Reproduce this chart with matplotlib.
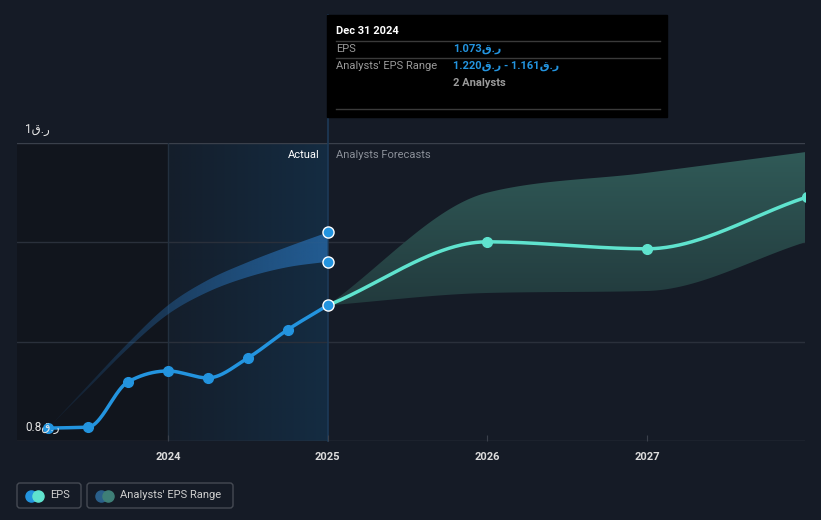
import numpy as np
import matplotlib
matplotlib.use('Agg')
import matplotlib.pyplot as plt
from matplotlib.patches import FancyBboxPatch, Rectangle

plt.rcParams['font.family'] = ['Roboto', 'DejaVu Sans']

# actual EPS (quarterly, trailing)
past_t = [2023.25, 2023.5, 2023.75, 2024.0, 2024.25, 2024.5, 2024.75, 2025.0]
past_eps = [0.826, 0.828, 0.919, 0.941, 0.927, 0.967, 1.024, 1.073]

# analysts' range for the past period
past_hi = [0.826, 0.912, 0.997, 1.073, 1.124, 1.160, 1.191, 1.220]
past_lo = [0.826, 0.906, 0.986, 1.055, 1.100, 1.130, 1.150, 1.161]

# forecasts
fc_t = [2025.0, 2026.0, 2027.0, 2028.0]
fc_eps = [1.073, 1.201, 1.187, 1.291]
fc_hi = [1.073, 1.300, 1.340, 1.382]
fc_lo = [1.073, 1.098, 1.102, 1.201]

years = [2024, 2025, 2026, 2027]
ylabels = ['0.8ق.ر', '1ق.ر']

BG = '#151b26'
BLUE = '#2394df'
TEAL = '#5fe3ce'
W, H = 821, 520


def monotone(x, y, n=300):
    # monotone cubic (d3 curveMonotoneX style) for smooth drawing
    x = np.asarray(x, float)
    y = np.asarray(y, float)
    h = np.diff(x)
    s = np.diff(y) / h
    m = np.zeros_like(y)
    m[0], m[-1] = s[0], s[-1]
    for k in range(1, len(x) - 1):
        p = (s[k-1] * h[k] + s[k] * h[k-1]) / (h[k-1] + h[k])
        m[k] = (np.sign(s[k-1]) + np.sign(s[k])) * min(abs(s[k-1]), abs(s[k]), 0.5 * abs(p))
    xs, ys = [], []
    for k in range(len(x) - 1):
        t = np.linspace(0, 1, n // (len(x) - 1))
        h00 = 2*t**3 - 3*t**2 + 1
        h10 = t**3 - 2*t**2 + t
        h01 = -2*t**3 + 3*t**2
        h11 = t**3 - t**2
        xs.append(x[k] + t * h[k])
        ys.append(h00*y[k] + h10*h[k]*m[k] + h01*y[k+1] + h11*h[k]*m[k+1])
    return np.concatenate(xs), np.concatenate(ys)


fig = plt.figure(figsize=(W / 100, H / 100), dpi=100, facecolor=BG)
ax = fig.add_axes([17 / W, (H - 441) / H, (805 - 17) / W, (441 - 143) / H])
ax.set_facecolor(BG)
x0, x1 = 2023.055, 2027.99
ax.set_xlim(x0, x1)
ax.set_ylim(0.8, 1.4)

# shaded past regions
ax.axvspan(x0, 2024.0, color='#11151d', zorder=0, lw=0)
grad = np.zeros((2, 256, 4))
c0 = np.array([20, 30, 43]) / 255
c1 = np.array([20, 44, 66]) / 255
for i in range(256):
    grad[:, i, :3] = c0 + (c1 - c0) * i / 255
grad[:, :, 3] = 1
ax.imshow(grad, extent=[2024.0, 2025.0, 0.8, 1.4], aspect='auto', zorder=0.5,
          interpolation='bilinear')

# grid
for v in [0.8, 1.0, 1.2, 1.4]:
    ax.axhline(v, color='#3a404b' if v in (0.8, 1.4) else '#2a303b', lw=1, zorder=1)
ax.axvline(2024.0, color='#23303f', lw=1, zorder=1)
ax.axvline(2025.0, ymax=(441 - 15) / (441 - 143), color='#1d3a58', lw=1.2,
           zorder=1, clip_on=False)

# past range band with horizontal fade
bx, bhi = monotone(past_t, past_hi)
_, blo = monotone(past_t, past_lo)
poly = ax.fill_between(bx, blo, bhi, color='none', lw=0)
pg = np.zeros((2, 256, 4))
pg[:, :, :3] = np.array([37, 100, 160]) / 255
pg[:, :, 3] = 0.05 + 0.8 * np.linspace(0.0, 1.0, 256) ** 0.8
im = ax.imshow(pg, extent=[past_t[0], past_t[-1], 0.8, 1.4], aspect='auto',
               zorder=2, interpolation='bilinear')
im.set_clip_path(poly.get_paths()[0], transform=ax.transData)

# forecast band with vertical gradient
fx, fhi = monotone(fc_t, fc_hi)
_, flo = monotone(fc_t, fc_lo)
poly2 = ax.fill_between(fx, flo, fhi, color='none', lw=0)
fg = np.zeros((256, 2, 4))
top = np.array([49, 92, 89]) / 255
bot = np.array([34, 58, 61]) / 255
for i in range(256):
    fg[i, :, :3] = top + (bot - top) * i / 255
fg[:, :, 3] = 1
im2 = ax.imshow(fg, extent=[2025.0, 2028.0, 1.07, 1.40], aspect='auto',
                zorder=2, interpolation='bilinear')
im2.set_clip_path(poly2.get_paths()[0], transform=ax.transData)

# lines
lx, ly = monotone(past_t, past_eps)
ax.plot(lx, ly, color=BLUE, lw=2.5, zorder=4, solid_capstyle='round')
ax.plot(past_t[:-1], past_eps[:-1], 'o', color=BLUE, ms=7, zorder=5)
fx2, fy2 = monotone(fc_t, fc_eps)
ax.plot(fx2, fy2, color=TEAL, lw=2.5, zorder=4)
ax.plot(fc_t[1:], fc_eps[1:], 'o', color=TEAL, ms=7, zorder=5, clip_on=True)
ax.plot([fc_t[0]] * 3, [past_eps[-1], past_hi[-1], past_lo[-1]], 'o', color=BLUE,
        mec='white', mew=1, ms=8, zorder=6, clip_on=False)

# axes cosmetics
for sp in ax.spines.values():
    sp.set_visible(False)
ax.set_yticks([])
ax.set_xticks(years)
ax.set_xticklabels([str(y) for y in years])
ax.tick_params(axis='x', colors='#3a404b', length=4, direction='in', pad=8,
               labelcolor='#dddddd', labelsize=8)
for lab in ax.get_xticklabels():
    lab.set_fontweight('bold')

for v, lab in zip([0.8, 1.4], ylabels):
    ax.annotate(lab, (0.01, v), xycoords=ax.get_yaxis_transform(), xytext=(0, 5),
                textcoords='offset points', color='#e6e6e6', fontsize=8.5,
                va='bottom', ha='left', zorder=7)
ax.text(2024.95, 1.375, 'Actual', color='#ffffff', fontsize=8, ha='right', va='center', zorder=7)
ax.text(2025.05, 1.375, 'Analysts Forecasts', color='#8a8f98', fontsize=8, ha='left',
        va='center', zorder=7)

# overlay for tooltip and legend (pixel coords)
ov = fig.add_axes([0, 0, 1, 1], facecolor='none')
ov.set_xlim(0, W)
ov.set_ylim(H, 0)
ov.axis('off')

ov.add_patch(Rectangle((327, 15), 340, 102, color='#000000', zorder=1))
for yy in [41, 58, 109]:
    ov.plot([336, 660], [yy, yy], color='#3a3a3a', lw=1, zorder=2)
ov.text(336, 31, 'Dec 31 2024', color='white', fontsize=8, fontweight='bold',
        va='center', zorder=3)
ov.text(336, 49, 'EPS', color='#9a9a9a', fontsize=8, va='center', zorder=3)
ov.text(336, 66, "Analysts' EPS Range", color='#9a9a9a', fontsize=8, va='center', zorder=3)
ov.text(453, 49, '1.073ق.ر', color=BLUE, fontsize=8, fontweight='bold', va='center', zorder=3)
ov.text(453, 66, '1.220ق.ر - 1.161ق.ر', color=BLUE, fontsize=8, fontweight='bold',
        va='center', zorder=3)
ov.text(453, 83, '2 Analysts', color='#9a9a9a', fontsize=8, fontweight='bold',
        va='center', zorder=3)

# legend
for (lx0, lw_, label, ca, cb) in [(17, 64, 'EPS', BLUE, TEAL),
                                  (87, 146, "Analysts' EPS Range", '#2a5f8a', '#3e7f77')]:
    ov.add_patch(FancyBboxPatch((lx0, 483), lw_, 25, boxstyle='round,pad=0,rounding_size=3',
                                fc='none', ec='#454a53', lw=1))
    ov.plot(lx0 + 14, 495.5, 'o', color=ca, ms=8)
    ov.plot(lx0 + 21, 495.5, 'o', color=cb, ms=8)
    ov.text(lx0 + 33, 495.5, label, color='#cfcfcf', fontsize=8, va='center')

fig.savefig('out.png', dpi=100, facecolor=BG)
